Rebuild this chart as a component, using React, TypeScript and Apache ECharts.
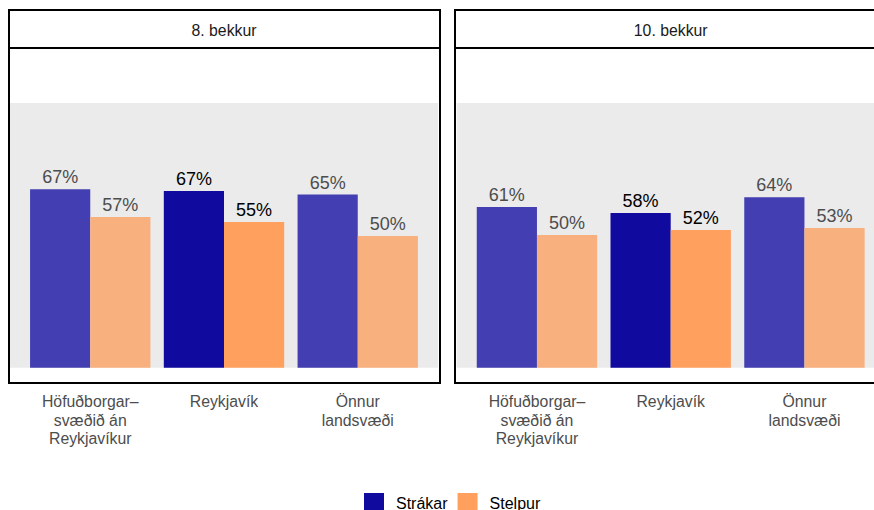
import React, { useEffect, useRef } from "react";
import * as echarts from "echarts";

const categories = ["Höfuðborgar–\nsvæðið án\nReykjavíkur", "Reykjavík", "Önnur\nlandsvæði"];
const panelTitles = ["8. bekkur", "10. bekkur"];
const seriesNames = ["Strákar", "Stelpur"];
const boys8 = [67.4, 66.8, 65.4];
const girls8 = [56.9, 55.0, 49.8];
const boys10 = [60.7, 58.4, 64.4];
const girls10 = [50.1, 52.0, 52.8];
const highlightIndex = 1;

const BOY_HI = "#100A9E";
const BOY_LO = "#433EB1";
const GIRL_HI = "#FFA05E";
const GIRL_LO = "#F9B07F";

const FONT = "Liberation Sans, Arial, Helvetica, sans-serif";

function makeData(values: number[], hi: string, lo: string) {
  return values.map((v, i) => ({
    value: v,
    itemStyle: { color: i === highlightIndex ? hi : lo },
    label: { color: i === highlightIndex ? "#000000" : "#4D4D4D" },
  }));
}

export default function App() {
  const ref = useRef<HTMLDivElement>(null);
  useEffect(() => {
    if (!ref.current) return;
    const chart = echarts.init(ref.current, undefined, { renderer: "svg" });
    const panelLeft = [10, 456.7];
    const panelW = 428;
    const gridTop = 103;
    const gridH = 264.7;
    const expand = (panelW * 0.1) / 3.2;
    const grids = panelLeft.map((l) => ({
      left: l + expand,
      width: panelW - 2 * expand,
      top: gridTop,
      height: gridH,
      containLabel: false,
      outerBoundsMode: "none",
    }));
    const xAxes = grids.map((_, i) => ({
      type: "category",
      gridIndex: i,
      data: categories,
      axisLine: { show: false },
      axisTick: { show: false },
      axisLabel: {
        color: "#4D4D4D",
        fontSize: 15.8,
        fontFamily: FONT,
        lineHeight: 18.5,
        margin: 25,
        interval: 0,
      },
    }));
    const yAxes = grids.map((_, i) => ({
      type: "value",
      gridIndex: i,
      min: 0,
      max: 100,
      show: false,
      splitLine: { show: false },
    }));
    const labelCfg = {
      show: true,
      position: "top",
      distance: 3,
      fontSize: 18,
      fontFamily: FONT,
      formatter: (p: any) => Math.round(p.value) + "%",
    };
    const barBase = {
      type: "bar",
      barWidth: "45%",
      barGap: "0%",
      label: labelCfg,
    };
    const series = [
      { ...barBase, name: seriesNames[0], xAxisIndex: 0, yAxisIndex: 0, itemStyle: { color: BOY_HI }, data: makeData(boys8, BOY_HI, BOY_LO) },
      { ...barBase, name: seriesNames[1], xAxisIndex: 0, yAxisIndex: 0, itemStyle: { color: GIRL_HI }, data: makeData(girls8, GIRL_HI, GIRL_LO) },
      { ...barBase, name: seriesNames[0], xAxisIndex: 1, yAxisIndex: 1, itemStyle: { color: BOY_HI }, data: makeData(boys10, BOY_HI, BOY_LO) },
      { ...barBase, name: seriesNames[1], xAxisIndex: 1, yAxisIndex: 1, itemStyle: { color: GIRL_HI }, data: makeData(girls10, GIRL_HI, GIRL_LO) },
    ];
    const borderX = [9, 455];
    const borderW = [431, 440];
    const graphic: any[] = [];
    panelTitles.forEach((t, i) => {
      graphic.push({
        type: "rect",
        z: -10,
        shape: { x: borderX[i], y: 10, width: borderW[i], height: 373 },
        style: { fill: "#FFFFFF", stroke: "#000000", lineWidth: 2 },
      });
      graphic.push({
        type: "rect",
        z: -9,
        shape: { x: panelLeft[i], y: gridTop, width: panelW, height: gridH },
        style: { fill: "#EBEBEB" },
      });
      graphic.push({
        type: "line",
        z: -8,
        shape: { x1: borderX[i], y1: 48, x2: borderX[i] + borderW[i], y2: 48 },
        style: { stroke: "#000000", lineWidth: 2 },
      });
      graphic.push({
        type: "text",
        z: -7,
        x: panelLeft[i] + panelW / 2,
        y: 30,
        style: {
          text: t,
          fill: "#1A1A1A",
          fontSize: 15.8,
          fontFamily: FONT,
          align: "center",
          verticalAlign: "middle",
        },
      });
    });
    chart.setOption({
      animation: false,
      backgroundColor: "#FFFFFF",
      grid: grids,
      xAxis: xAxes,
      yAxis: yAxes,
      series,
      graphic,
      legend: {
        data: seriesNames,
        left: 359,
        top: 488,
        icon: "rect",
        itemWidth: 20,
        itemHeight: 20,
        itemGap: 10,
        selectedMode: false,
        textStyle: { color: "#000000", fontSize: 16, fontFamily: FONT, padding: [0, 0, 0, 7] },
      },
    });
    return () => chart.dispose();
  }, []);
  return (
    <div
      ref={ref}
      style={{ position: "fixed", left: 0, top: 0, width: 874, height: 510 }}
    />
  );
}
